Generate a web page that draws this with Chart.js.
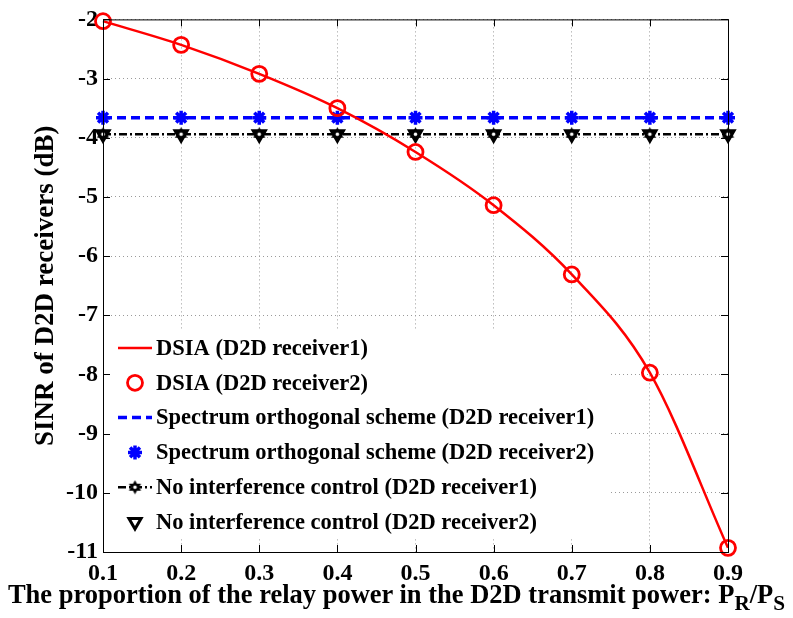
<!DOCTYPE html>
<html>
<head>
<meta charset="utf-8">
<script src="https://cdn.jsdelivr.net/npm/chart.js@4/dist/chart.umd.min.js"></script>
<style>
  html, body { margin: 0; padding: 0; background: #fff; }
  #wrap { position: relative; width: 793px; height: 618px; }
  #xtitle { position: absolute; left: 0; width: 793px; top: 579px; text-align: center; line-height: 1;
    font: bold 26.5px "Liberation Serif", "Times New Roman", serif; white-space: nowrap; color: #000; }
  #xtitle sub { font-size: 0.8em; vertical-align: -0.35em; line-height: 0; }
</style>
</head>
<body>
<div id="wrap">
  <canvas id="c" width="793" height="618"></canvas>
  <div id="xtitle">The proportion of the relay power in the D2D transmit power: P<sub>R</sub>/P<sub>S</sub></div>
</div>
<script>
// ---- data ----
const xValues = [0.1, 0.2, 0.3, 0.4, 0.5, 0.6, 0.7, 0.8, 0.9];
const dsiaRx1 = [-2.03, -2.43, -2.92, -3.50, -4.24, -5.14, -6.31, -7.97, -10.93];
const dsiaRx2 = [-2.03, -2.43, -2.92, -3.50, -4.24, -5.14, -6.31, -7.97, -10.93];
const orthRx1 = [-3.66, -3.66, -3.66, -3.66, -3.66, -3.66, -3.66, -3.66, -3.66];
const orthRx2 = [-3.66, -3.66, -3.66, -3.66, -3.66, -3.66, -3.66, -3.66, -3.66];
const noicRx1 = [-3.94, -3.94, -3.94, -3.94, -3.94, -3.94, -3.94, -3.94, -3.94];
const noicRx2 = [-3.94, -3.94, -3.94, -3.94, -3.94, -3.94, -3.94, -3.94, -3.94];
const xTickLabels = ['0.1','0.2','0.3','0.4','0.5','0.6','0.7','0.8','0.9'];
const yTickValues = [-2, -3, -4, -5, -6, -7, -8, -9, -10, -11];
const seriesNames = [
  'DSIA (D2D receiver1)',
  'DSIA (D2D receiver2)',
  'Spectrum orthogonal scheme (D2D receiver1)',
  'Spectrum orthogonal scheme (D2D receiver2)',
  'No interference control (D2D receiver1)',
  'No interference control (D2D receiver2)'
];

const pts = arr => arr.map((v, i) => ({ x: xValues[i], y: v }));

// hexagram marker image
function hexagram(size) {
  const c = document.createElement('canvas');
  c.width = size; c.height = size;
  const g = c.getContext('2d');
  const cx = size / 2, cy = size / 2, r = size / 2 - 0.5;
  g.fillStyle = '#000';
  for (const off of [-Math.PI / 2, Math.PI / 2]) {
    g.beginPath();
    for (let k = 0; k < 3; k++) {
      const a = off + k * 2 * Math.PI / 3;
      const px = cx + r * Math.cos(a), py = cy + r * Math.sin(a);
      if (k === 0) g.moveTo(px, py); else g.lineTo(px, py);
    }
    g.closePath(); g.fill();
  }
  g.fillStyle = '#fff';
  g.beginPath(); g.arc(cx, cy, size * 0.12, 0, Math.PI * 2); g.fill();
  return c;
}
const hexImg = hexagram(15);

const FONT = '"Liberation Serif", "Times New Roman", serif';

const datasets = [
  { label: seriesNames[0], data: pts(dsiaRx1), borderColor: '#ff0000', borderWidth: 2.5,
    pointRadius: 0, pointStyle: false, showLine: true, cubicInterpolationMode: 'monotone', clip: false },
  { label: seriesNames[1], data: pts(dsiaRx2), borderColor: '#ff0000', backgroundColor: 'rgba(0,0,0,0)',
    borderWidth: 2.8, pointRadius: 7.5, pointBorderWidth: 2.8, pointStyle: 'circle', showLine: false, clip: false },
  { label: seriesNames[2], data: pts(orthRx1), borderColor: '#0000ff', borderWidth: 3.5, borderDash: [9, 5],
    pointRadius: 0, pointStyle: false, showLine: true, clip: false },
  { label: seriesNames[3], data: pts(orthRx2), borderColor: '#0000ff', backgroundColor: '#0000ff',
    borderWidth: 3, pointRadius: 7, pointBorderWidth: 3.5, pointStyle: 'star', showLine: false, clip: false },
  { label: seriesNames[4], data: pts(noicRx1), borderColor: '#000', backgroundColor: '#000',
    borderWidth: 2.5, borderDash: [8, 3, 2, 3], pointRadius: 7, pointStyle: hexImg, showLine: true, clip: false },
  { label: seriesNames[5], data: pts(noicRx2), borderColor: '#000', backgroundColor: 'rgba(0,0,0,0)',
    borderWidth: 3, pointRadius: 7, pointBorderWidth: 3, pointStyle: 'triangle', rotation: 180, showLine: false, clip: false }
];

function drawMarker(ctx, ds, x, y) {
  if (!ds.pointStyle) return;
  Chart.helpers.drawPoint(ctx, {
    pointStyle: ds.pointStyle, rotation: ds.rotation || 0, radius: ds.pointRadius, borderWidth: ds.pointBorderWidth || ds.borderWidth
  }, x, y);
}

const boxAndLegend = {
  id: 'boxAndLegend',
  afterDatasetsDraw(chart) {
    const ctx = chart.ctx, a = chart.chartArea;
    // legend (white background, no border)
    ctx.save();
    ctx.fillStyle = '#fff';
    ctx.fillRect(a.left + 1.5, 331, 505, 208);
    const y0 = 348, dy = 34.8;
    ctx.font = 'bold 22.5px ' + FONT;
    ctx.textBaseline = 'middle';
    ctx.textAlign = 'left';
    chart.data.datasets.forEach((ds, i) => {
      const y = y0 + i * dy;
      if (ds.showLine) {
        ctx.save();
        ctx.strokeStyle = ds.borderColor;
        ctx.lineWidth = ds.borderWidth;
        ctx.setLineDash(ds.borderDash || []);
        ctx.beginPath(); ctx.moveTo(118, y); ctx.lineTo(152, y); ctx.stroke();
        ctx.restore();
      }
      ctx.save();
      ctx.strokeStyle = ds.borderColor;
      ctx.fillStyle = ds.backgroundColor || 'rgba(0,0,0,0)';
      ctx.lineWidth = ds.pointBorderWidth || ds.borderWidth;
      drawMarker(ctx, ds, 135, y);
      ctx.restore();
      ctx.fillStyle = '#000';
      ctx.fillText(ds.label, 156, y + 1);
    });
    ctx.restore();

    // axes box
    ctx.save();
    ctx.strokeStyle = '#000';
    ctx.lineWidth = 1;
    ctx.strokeRect(a.left + 0.5, a.top + 0.5, a.right - a.left, a.bottom - a.top);
    // inward ticks
    const xs = chart.scales.x, ys = chart.scales.y, L = 7;
    ctx.beginPath();
    xs.ticks.forEach(t => {
      const px = Math.round(xs.getPixelForValue(t.value)) + 0.5;
      ctx.moveTo(px, a.bottom); ctx.lineTo(px, a.bottom - L);
      ctx.moveTo(px, a.top); ctx.lineTo(px, a.top + L);
    });
    ys.ticks.forEach(t => {
      const py = Math.round(ys.getPixelForValue(t.value)) + 0.5;
      ctx.moveTo(a.left, py); ctx.lineTo(a.left + L, py);
      ctx.moveTo(a.right, py); ctx.lineTo(a.right - L, py);
    });
    ctx.stroke();
    ctx.restore();
  }
};

new Chart(document.getElementById('c'), {
  type: 'line',
  data: { datasets },
  plugins: [boxAndLegend],
  options: {
    responsive: false,
    animation: false,
    layout: { padding: { top: 14, right: 65, left: 0, bottom: 0 } },
    plugins: { legend: { display: false }, tooltip: { enabled: false } },
    scales: {
      x: {
        type: 'linear', min: 0.1, max: 0.9,
        afterBuildTicks: s => { s.ticks = xValues.map(v => ({ value: v })); },
        afterFit: s => { s.height = 66; },
        ticks: {
          callback: (v, i) => xTickLabels[i],
          font: { family: FONT, size: 24, weight: 'bold' }, color: '#000', padding: 7, maxRotation: 0
        },
        grid: { color: '#9a9a9a', lineWidth: 1, drawTicks: false },
        border: { display: false, dash: [1, 3] }
      },
      y: {
        type: 'linear', min: -11, max: -2,
        afterBuildTicks: s => { s.ticks = yTickValues.map(v => ({ value: v })); },
        afterFit: s => { s.width = 103; },
        ticks: {
          callback: v => String(v),
          font: { family: FONT, size: 24, weight: 'bold' }, color: '#000', padding: 5
        },
        grid: { color: '#9a9a9a', lineWidth: 1, drawTicks: false },
        border: { display: false, dash: [1, 3] },
        title: { display: true, text: 'SINR of D2D receivers (dB)', color: '#000',
          font: { family: FONT, size: 27, weight: 'bold' }, padding: { top: 30, bottom: 0 } }
      }
    }
  }
});
</script>
</body>
</html>
